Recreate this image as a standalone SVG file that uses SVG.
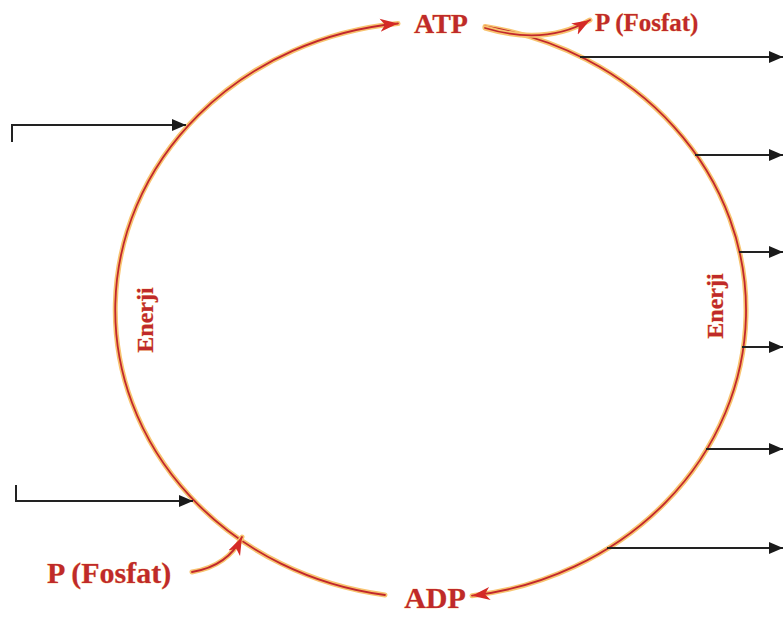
<svg xmlns="http://www.w3.org/2000/svg" width="784" height="619" viewBox="0 0 784 619">
<style>
.lbl{font-family:"Liberation Serif","Times New Roman",serif;font-weight:bold;fill:#bf2a2a;stroke:#f6b15a;stroke-width:0.5;paint-order:stroke}
.glow{fill:none;stroke:#f8c470;stroke-width:5;stroke-linecap:round}
.red{fill:none;stroke:#c1272d;stroke-width:1.8;stroke-linecap:round}
.blk{fill:none;stroke:#222;stroke-width:2}
</style>
<defs>
<marker id="ra" markerUnits="userSpaceOnUse" markerWidth="20" markerHeight="14" refX="18" refY="7" orient="auto">
<path d="M0,0.5 L18,7 L0,13.5 L5,7 Z" fill="#d42a26"/>
</marker>
<marker id="ba" markerUnits="userSpaceOnUse" markerWidth="15" markerHeight="13" refX="14" refY="6.5" orient="auto">
<path d="M0,0.5 L14,6.5 L0,12.5 Z" fill="#1a1a1a"/>
</marker>
</defs>
<rect width="784" height="619" fill="#ffffff"/>
<g id="connectors">
<path class="glow" d="M385,595 A315,288 0 0 1 398,23.5"/>
<path class="red" d="M385,595 A315,288 0 0 1 398,23.5" marker-end="url(#ra)"/>
<path class="glow" d="M485,26.4 A315,288 0 0 1 472,595.7"/>
<path class="red" d="M485,26.4 A315,288 0 0 1 472,595.7" marker-end="url(#ra)"/>
<path class="glow" d="M485,28 Q545,46 590,20"/>
<path class="red" d="M485,28 Q545,46 590,20" marker-end="url(#ra)"/>
<path class="glow" d="M192,572 Q228,566 242,537"/>
<path class="red" d="M192,572 Q228,566 242,537" marker-end="url(#ra)"/>
<path class="blk" d="M12,142 V125 H186" marker-end="url(#ba)"/>
<path class="blk" d="M16,485 V501 H193" marker-end="url(#ba)"/>
<path class="blk" d="M580,57 H783" marker-end="url(#ba)"/>
<path class="blk" d="M695,155 H783" marker-end="url(#ba)"/>
<path class="blk" d="M739,252 H783" marker-end="url(#ba)"/>
<path class="blk" d="M742,347 H783" marker-end="url(#ba)"/>
<path class="blk" d="M706,449 H783" marker-end="url(#ba)"/>
<path class="blk" d="M607,548 H783" marker-end="url(#ba)"/>
</g>
<g id="atp"><text class="lbl" x="441" y="33" font-size="28" text-anchor="middle">ATP</text></g>
<g id="p-top"><text class="lbl" x="595" y="31" font-size="25">P (Fosfat)</text></g>
<g id="adp"><text class="lbl" x="435" y="608" font-size="30" text-anchor="middle">ADP</text></g>
<g id="p-bottom"><text class="lbl" x="47" y="583" font-size="30">P (Fosfat)</text></g>
<g id="enerji-left"><text class="lbl" transform="translate(153,320) rotate(-90)" font-size="24" text-anchor="middle">Enerji</text></g>
<g id="enerji-right"><text class="lbl" transform="translate(723,306) rotate(-90)" font-size="24" text-anchor="middle">Enerji</text></g>
</svg>
